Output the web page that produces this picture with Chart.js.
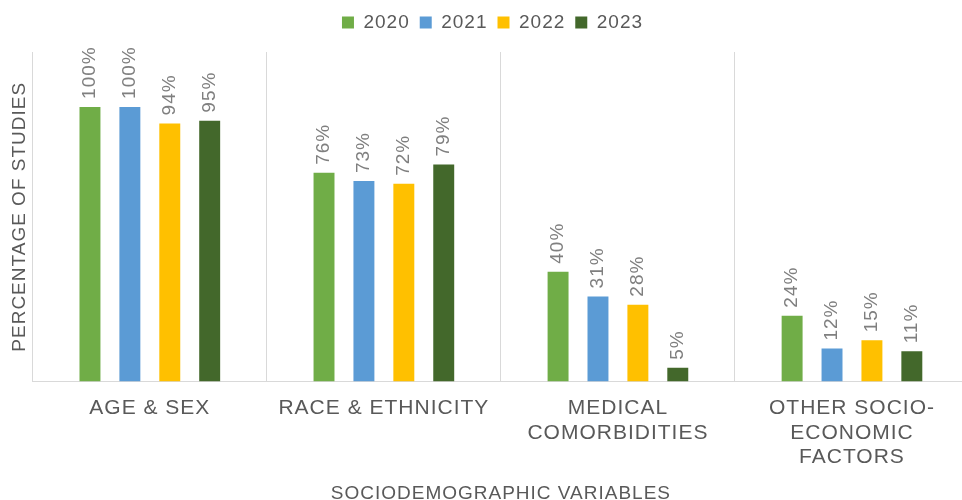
<!DOCTYPE html>
<html>
<head>
<meta charset="utf-8">
<script src="https://cdn.jsdelivr.net/npm/chart.js@4"></script>
<style>
  html, body { margin: 0; padding: 0; background: #fff; overflow: hidden; }
  #wrap { width: 962px; height: 500px; overflow: hidden; position: relative; }
  #box { width: 980px; height: 500px; position: absolute; left: 0; top: 0; }
</style>
</head>
<body>
<div id="wrap"><div id="box"><canvas id="c"></canvas></div></div>
<script>
const categories = [["AGE & SEX"], ["RACE & ETHNICITY"], ["MEDICAL", "COMORBIDITIES"], ["OTHER SOCIO-", "ECONOMIC", "FACTORS"]];
const seriesNames = ["2020", "2021", "2022", "2023"];
const values2020 = [100, 76, 40, 24];
const values2021 = [100, 73, 31, 12];
const values2022 = [94, 72, 28, 15];
const values2023 = [95, 79, 5, 11];
const seriesColors = ["#70AD47", "#5B9BD5", "#FFC000", "#43682B"];

const allValues = [values2020, values2021, values2022, values2023];
const FONT = '"Liberation Sans", Arial, sans-serif';

const labelPlugin = {
  id: 'rotLabels',
  afterDatasetsDraw(chart) {
    const ctx = chart.ctx;
    ctx.save();
    ctx.font = '19px ' + FONT;
    ctx.fillStyle = '#7F7F7F';
    ctx.letterSpacing = '1px';
    ctx.textAlign = 'left';
    ctx.textBaseline = 'middle';
    chart.data.datasets.forEach((ds, i) => {
      const meta = chart.getDatasetMeta(i);
      meta.data.forEach((el, j) => {
        ctx.save();
        ctx.translate(el.x, el.y - 8);
        ctx.rotate(-Math.PI / 2);
        ctx.fillText(ds.data[j] + '%', 0, 0);
        ctx.restore();
      });
    });
    ctx.restore();
  }
};

const spacingPlugin = {
  id: 'spacing',
  beforeDraw(chart) { chart.ctx.letterSpacing = '1px'; }
};

const legendMargin = {
  id: 'legendMargin',
  beforeInit(chart) {
    const orig = chart.legend.fit;
    chart.legend.fit = function () {
      orig.bind(chart.legend)();
      this.height += 10;
    };
  }
};

new Chart(document.getElementById('c'), {
  type: 'bar',
  data: {
    labels: categories,
    datasets: seriesNames.map((n, i) => ({
      label: n,
      data: allValues[i],
      backgroundColor: seriesColors[i],
      borderWidth: 0,
      categoryPercentage: 0.682,
      barPercentage: 0.525
    }))
  },
  options: {
    responsive: true,
    maintainAspectRatio: false,
    animation: false,
    layout: { padding: { top: 3, right: 11, bottom: -3, left: 0 } },
    plugins: {
      legend: {
        position: 'top',
        labels: {
          boxWidth: 12, boxHeight: 12, padding: 10,
          color: '#595959',
          font: { size: 19, family: FONT }
        }
      },
      tooltip: { enabled: false }
    },
    scales: {
      x: {
        grid: { display: true, offset: true, color: '#D9D9D9', drawTicks: false, lineWidth: 1 },
        border: { display: true, color: '#D9D9D9' },
        ticks: {
          color: '#595959', padding: 15, maxRotation: 0, autoSkip: false,
          font: { size: 21, family: FONT, lineHeight: 1.15 }
        },
        title: {
          display: true, text: 'SOCIODEMOGRAPHIC VARIABLES', color: '#595959',
          font: { size: 19, family: FONT, lineHeight: 1.0 },
          padding: { top: 0, bottom: 0 }
        }
      },
      y: {
        min: 0, max: 120,
        grid: { display: false, drawTicks: false },
        border: { display: false },
        ticks: { display: false },
        title: {
          display: true, text: 'PERCENTAGE OF STUDIES', color: '#595959',
          font: { size: 19, family: FONT },
          padding: { top: 8, bottom: 2 }
        }
      }
    }
  },
  plugins: [legendMargin, spacingPlugin, labelPlugin]
});
</script>
</body>
</html>
